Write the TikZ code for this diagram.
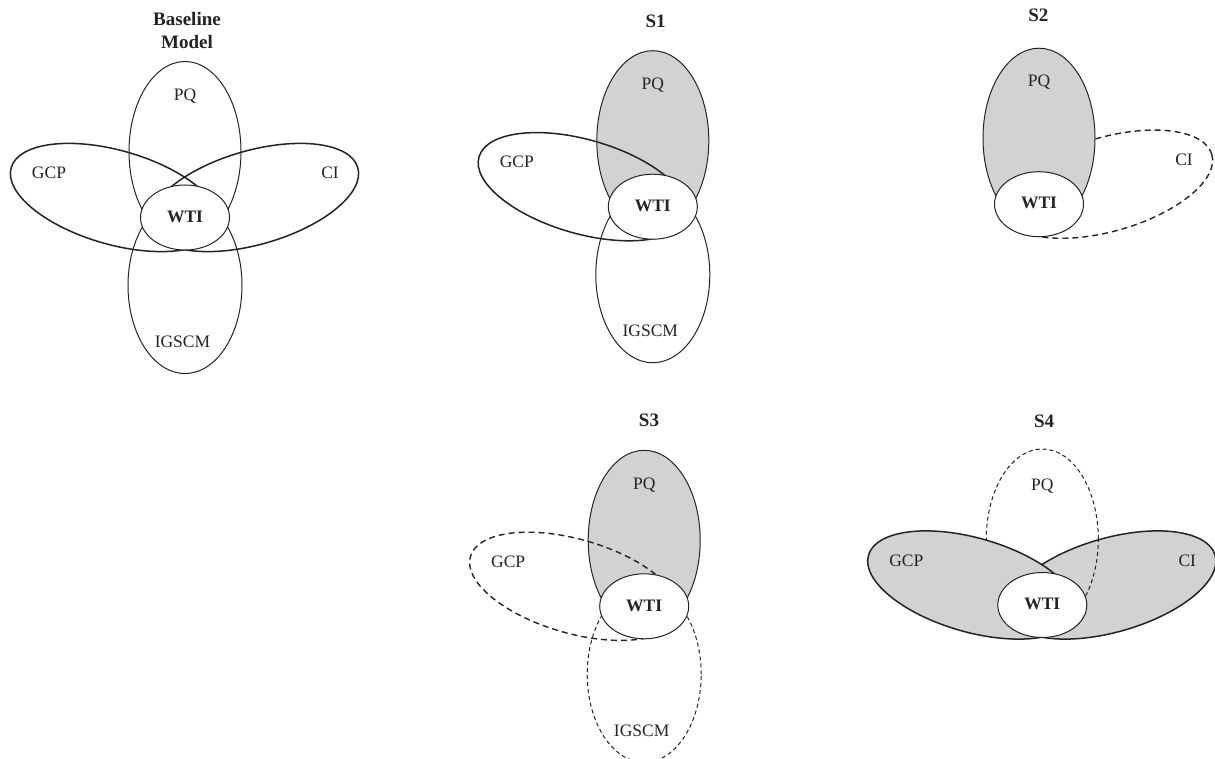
\documentclass[tikz,border=0pt]{standalone}
\usepackage{fontspec}
\setmainfont{Liberation Serif}
\definecolor{shade}{RGB}{210,210,210}
\definecolor{ink}{RGB}{35,35,35}
\tikzset{
  thinline/.style={draw=ink, line width=1pt},
  thickline/.style={draw=ink, line width=1.5pt},
  thickdash/.style={draw=ink, line width=1.4pt, dash pattern=on 6pt off 4pt},
  thindash/.style={draw=ink, line width=1pt, dash pattern=on 4pt off 3pt},
  shaded/.style={fill=shade},
  lab/.style={font=\fontsize{17.5}{21}\selectfont, anchor=base, yshift=-5.8pt, inner sep=0pt, text=ink},
  wtilab/.style={font=\fontsize{17.5}{21}\selectfont\bfseries, anchor=base, yshift=-5.8pt, inner sep=0pt, text=ink},
  ttl/.style={font=\fontsize{19}{23}\selectfont\bfseries, anchor=base, yshift=-6.3pt, inner sep=0pt, text=ink},
}
\newcommand\PQshape[1]{\path[#1] (0,66) ellipse [x radius=56pt, y radius=90pt];}
\newcommand\IGshape[1]{\path[#1] (0,-68) ellipse [x radius=57pt, y radius=88pt];}
\newcommand\GCPshape[1]{\path[#1, rotate around={-16:(-70,20)}] (-70,20) ellipse [x radius=108pt, y radius=47pt];}
\newcommand\CIshape[1]{\path[#1, rotate around={16:(69,20)}] (69,20) ellipse [x radius=108pt, y radius=47pt];}
\newcommand\WTIshape{\path[fill=white, thinline] (0,0) ellipse [x radius=44.5pt, y radius=32.5pt];}
\begin{document}
\begin{tikzpicture}[x=1pt,y=1pt]
\useasboundingbox (0,0) rectangle (1215,-759);
\clip (0,0) rectangle (1215,-759);

% titles
\node[ttl] (tb1) at (187,-18.8) {Baseline};
\node[ttl] (tb2) at (187,-42.5) {Model};
\node[ttl] (ts1) at (655.7,-20.8) {S1};
\node[ttl] (ts2) at (1038.3,-15.7) {S2};
\node[ttl] (ts3) at (649,-420) {S3};
\node[ttl] (ts4) at (1044.2,-420.8) {S4};

% Baseline model
\begin{scope}[shift={(185,-217.5)}]
  \IGshape{thinline}
  \PQshape{thinline}
  \GCPshape{thickline}
  \CIshape{thickline}
  \WTIshape
  \node[lab] (b-pq) at (0,123) {PQ};
  \node[lab] (b-gcp) at (-136,44.5) {GCP};
  \node[lab] (b-ci) at (145,44.5) {CI};
  \node[wtilab] (b-wti) at (0,1) {WTI};
  \node[lab] (b-ig) at (-2.5,-124.3) {IGSCM};
\end{scope}

% S1
\begin{scope}[shift={(652.8,-206.7)}]
  \PQshape{thinline, shaded}
  \IGshape{thinline}
  \GCPshape{thickline}
  \WTIshape
  \node[lab] (s1-pq) at (0,123) {PQ};
  \node[lab] (s1-gcp) at (-136,44.5) {GCP};
  \node[wtilab] (s1-wti) at (0,1) {WTI};
  \node[lab] (s1-ig) at (-2.5,-124.3) {IGSCM};
\end{scope}

% S2
\begin{scope}[shift={(1039,-204.2)}]
  \CIshape{thickdash}
  \PQshape{thinline, shaded}
  \WTIshape
  \node[lab] (s2-pq) at (0,123) {PQ};
  \node[lab] (s2-ci) at (145,44.5) {CI};
  \node[wtilab] (s2-wti) at (0,1) {WTI};
\end{scope}

% S3
\begin{scope}[shift={(644.2,-606.3)}]
  \IGshape{thindash}
  \PQshape{thinline, shaded}
  \GCPshape{thickdash}
  \WTIshape
  \node[lab] (s3-pq) at (0,123) {PQ};
  \node[lab] (s3-gcp) at (-136,44.5) {GCP};
  \node[wtilab] (s3-wti) at (0,1) {WTI};
  \node[lab] (s3-ig) at (-2.5,-124.3) {IGSCM};
\end{scope}

% S4
\begin{scope}[shift={(1042.3,-605)}]
  \CIshape{thickline, shaded}
  \PQshape{thindash}
  \GCPshape{thickline, shaded}
  \WTIshape
  \node[lab] (s4-pq) at (0,120) {PQ};
  \node[lab] (s4-gcp) at (-136,44.5) {GCP};
  \node[lab] (s4-ci) at (145,44.5) {CI};
  \node[wtilab] (s4-wti) at (0,1) {WTI};
\end{scope}
\end{tikzpicture}
\end{document}
